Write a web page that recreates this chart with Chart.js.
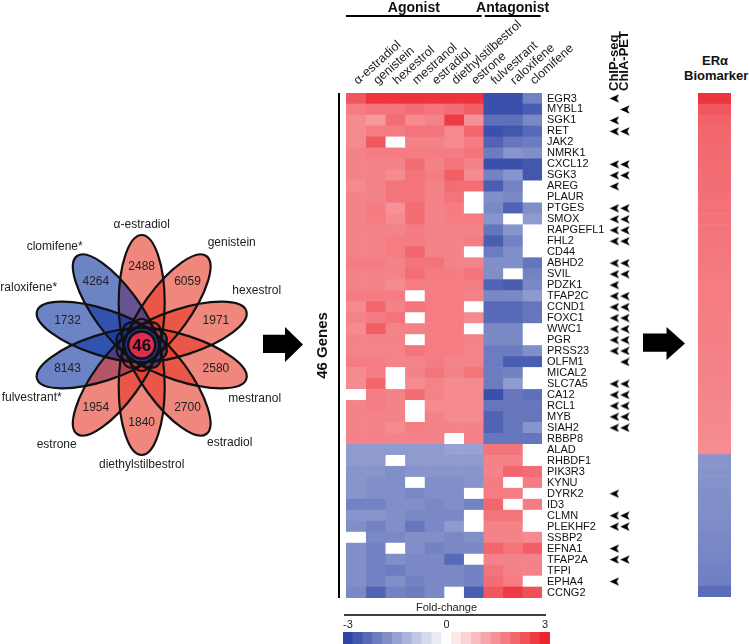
<!DOCTYPE html>
<html>
<head>
<meta charset="utf-8">
<title>ERα biomarker genes</title>
<script src="https://cdn.jsdelivr.net/npm/chart.js@4.4.1/dist/chart.umd.min.js"></script>
<style>
  html, body { margin: 0; padding: 0; background: #fff; }
  #page { position: relative; width: 749px; height: 644px; overflow: hidden;
          font-family: 'Liberation Sans', Arial, sans-serif; color: #111; }
  #page canvas { position: absolute; }
  .txt { position: absolute; white-space: nowrap; font-weight: bold; text-align: center; }
  .bigArrow { position: absolute; background: #000; }
</style>
</head>
<body>
<div id="page">
  <canvas id="venn" width="330" height="290" style="left:0;top:200px"></canvas>
  <canvas id="heat" width="360" height="644" style="left:300px;top:0"></canvas>
  <canvas id="marks" width="40" height="644" style="left:600px;top:0"></canvas>
  <canvas id="scale" width="220" height="48" style="left:338px;top:596px"></canvas>
  <canvas id="marker" width="33" height="504" style="left:698px;top:93px"></canvas>
  <div class="bigArrow" style="left:263px;top:327px;width:40px;height:35px;clip-path:polygon(0 22%,55% 22%,55% 0,100% 50%,55% 100%,55% 74%,0 74%)"></div>
  <div class="bigArrow" style="left:643px;top:327px;width:42px;height:33px;clip-path:polygon(0 20%,56% 20%,56% 0,100% 50%,56% 100%,56% 75%,0 75%)"></div>
  <div class="txt" style="left:684px;top:53px;width:62px;font-size:13px;line-height:15px">ERα<br>Biomarker</div>
</div>
<script>
const FONT = "'Liberation Sans', Arial, sans-serif";
Chart.defaults.font.family = FONT;

// ---- venn flower ----
const vennSets = ['α-estradiol', 'genistein', 'hexestrol', 'mestranol', 'estradiol',
  'diethylstilbestrol', 'estrone', 'fulvestrant*', 'raloxifene*', 'clomifene*'];
const vennCounts = [2488, 6059, 1971, 2580, 2700, 1840, 1954, 8143, 1732, 4264];
const vennAntagonist = [false, false, false, false, false, false, false, true, true, true];
const vennShared = 46;

// ---- heatmap ----
const drugs = ['α-estradiol', 'genistein', 'hexestrol', 'mestranol', 'estradiol',
  'diethylstilbestrol', 'estrone', 'fulvestrant', 'raloxifene', 'clomifene'];
const agonistCount = 7;
const genes = ['EGR3', 'MYBL1', 'SGK1', 'RET', 'JAK2', 'NMRK1', 'CXCL12', 'SGK3', 'AREG', 'PLAUR',
  'PTGES', 'SMOX', 'RAPGEFL1', 'FHL2', 'CD44', 'ABHD2', 'SVIL', 'PDZK1', 'TFAP2C', 'CCND1',
  'FOXC1', 'WWC1', 'PGR', 'PRSS23', 'OLFM1', 'MICAL2', 'SLC7A5', 'CA12', 'RCL1', 'MYB',
  'SIAH2', 'RBBP8', 'ALAD', 'RHBDF1', 'PIK3R3', 'KYNU', 'DYRK2', 'ID3', 'CLMN', 'PLEKHF2',
  'SSBP2', 'EFNA1', 'TFAP2A', 'TFPI', 'EPHA4', 'CCNG2'];

// fold-change per compound, one value per gene (null = blank cell)
const fcAlphaEstradiol = [2.3, 1.8, 1.6, 1.6, 1.6, 1.7, 1.7, 1.7, 1.6, 1.7, 1.7, 1.7, 1.7, 1.7, 1.7, 1.8,
  1.7, 1.7, 1.8, 1.6, 1.7, 1.6, 1.7, 1.7, 1.8, 1.6, 1.6, null, 1.7, 1.7, 1.7, 1.7,
  -1.6, -1.6, -1.7, -1.7, -1.7, -2.0, -1.7, -1.8, null, -1.8, -1.8, -1.8, -1.8, -1.9];
const fcGenistein = [2.8, 1.9, 1.4, 1.8, 2.3, 1.8, 1.7, 1.7, 1.7, 1.7, 1.8, 1.8, 1.7, 1.7, 1.7, 1.8,
  1.7, 1.7, 1.8, 2.1, 1.8, 2.2, 1.7, 1.7, 1.8, 1.8, 2.1, 1.8, 1.8, 1.7, 1.7, 1.7,
  -1.6, -1.6, -1.7, -1.8, -1.8, -2.0, -1.7, -2.0, -1.9, -2.0, -2.0, -2.0, -2.0, -2.5];
const fcHexestrol = [2.8, 1.9, 2.0, 1.8, null, 1.8, 1.7, 1.6, 1.9, 1.9, 1.5, 1.6, 1.7, 1.8, 1.8, 1.7,
  1.7, 1.6, 1.8, 1.7, 1.9, 1.7, 1.7, 1.7, 1.7, null, null, 1.7, 1.7, 1.7, 1.6, 1.7,
  -1.6, null, -1.8, -1.8, -1.8, -1.8, -1.8, -1.8, -1.9, null, -1.8, -2.1, -1.8, -2.0];
const fcMestranol = [2.8, 2.0, 1.6, 1.9, 1.7, 1.8, 2.0, 1.9, 1.9, 1.9, 2.0, 2.0, 1.8, 1.8, 2.1, 1.9,
  2.0, 1.8, null, 1.9, null, 1.7, null, 1.9, 1.7, 1.7, 1.6, 2.0, null, null, 1.8, 1.7,
  -1.6, -1.6, -1.7, null, -1.9, -1.8, -1.9, -2.2, -1.8, -1.8, -1.9, -1.9, -2.0, -2.1];
const fcEstradiol = [2.8, 1.9, 1.7, 1.9, 1.7, 1.8, 1.7, 1.8, 1.7, 1.7, 1.7, 1.7, 1.7, 1.7, 1.7, 1.9,
  1.8, 1.8, 1.8, 1.8, 1.8, 1.8, 1.8, 1.8, 1.8, 1.9, 1.7, 1.7, 1.6, 1.7, 1.7, 1.7,
  -1.6, -1.6, -1.7, -1.8, -1.8, -1.9, -1.9, -1.9, -1.8, -2.0, -1.9, -1.9, -1.9, -1.9];
const fcDiethylstilbestrol = [2.8, 2.0, 2.7, 1.6, 1.6, 1.8, 1.9, 2.2, 2.0, 1.9, 1.8, 1.8, 1.7, 1.7, 1.7, 1.7,
  1.8, 1.8, 1.8, 1.8, 1.8, 1.8, 1.8, 1.8, 1.7, 1.7, 1.6, 1.6, 1.6, 1.6, 1.7, null,
  -1.5, -1.6, -1.7, -1.8, -1.8, -1.8, -1.9, -1.6, -1.9, -1.9, -2.4, -1.9, -1.9, null];
const fcEstrone = [2.8, 2.2, 1.5, 2.1, 1.8, 1.9, 1.7, 1.6, 2.0, null, null, 1.8, 1.7, 1.8, null, 1.7,
  1.9, 1.8, 1.7, null, 1.6, null, 1.7, 1.7, 1.7, 1.9, 1.6, 1.6, 1.6, 1.6, 1.7, 1.7,
  -1.5, -1.6, -1.7, -1.7, null, -2.0, null, null, -1.8, -1.9, null, -2.0, -2.0, -2.6];
const fcFulvestrant = [-2.8, -2.8, -2.3, -2.8, -2.5, -2.1, -2.8, -2.0, -2.6, -1.8, -1.9, -1.7, -2.2, -2.6, -2.1, -1.8,
  -1.8, -2.5, -1.9, -2.4, -2.4, -1.9, -1.9, -2.1, -2.1, -2.1, -2.1, -2.8, -2.2, -2.5, -2.5, -2.2,
  1.9, 1.7, 1.7, 1.8, 1.8, 2.1, 1.9, 1.7, 1.7, 2.1, 1.7, 1.9, 2.0, 2.3];
const fcRaloxifene = [-2.8, -2.8, -2.3, -2.7, -2.2, -1.7, -2.8, -1.7, -2.0, -1.9, -2.5, null, -1.7, -2.0, -1.8, -1.8,
  null, -2.6, -1.9, -2.4, -2.4, -1.9, -1.9, -2.1, -2.6, -2.0, -1.6, -2.2, -2.2, -2.2, -2.2, -2.2,
  1.9, 1.7, 2.1, null, 1.8, null, 1.9, 1.7, 1.7, 1.9, 1.7, 1.7, 1.8, 2.7];
const fcClomifene = [-2.0, -2.6, -1.9, -2.4, -2.1, -1.8, -2.7, -2.7, null, null, -1.8, -1.6, null, null, null, -2.2,
  -2.0, -1.9, -1.6, -2.2, -2.2, null, null, -1.8, -2.6, null, null, -2.3, -2.2, -2.2, -1.7, -2.2,
  null, null, 2.0, 1.8, null, 1.8, null, null, 1.6, 2.2, 1.7, 1.7, null, 2.4];
const foldChange = [fcAlphaEstradiol, fcGenistein, fcHexestrol, fcMestranol, fcEstradiol,
  fcDiethylstilbestrol, fcEstrone, fcFulvestrant, fcRaloxifene, fcClomifene];

const chipSeqGenes = ['EGR3', 'SGK1', 'RET', 'CXCL12', 'SGK3', 'AREG', 'PTGES', 'SMOX', 'RAPGEFL1', 'FHL2',
  'ABHD2', 'SVIL', 'PDZK1', 'TFAP2C', 'CCND1', 'FOXC1', 'WWC1', 'PGR', 'PRSS23', 'SLC7A5', 'CA12',
  'RCL1', 'MYB', 'SIAH2', 'DYRK2', 'CLMN', 'PLEKHF2', 'EFNA1', 'TFAP2A', 'EPHA4'];
const chiaPetGenes = ['MYBL1', 'RET', 'CXCL12', 'SGK3', 'PTGES', 'SMOX', 'RAPGEFL1', 'FHL2', 'ABHD2', 'SVIL',
  'TFAP2C', 'CCND1', 'FOXC1', 'WWC1', 'PGR', 'PRSS23', 'OLFM1', 'SLC7A5', 'CA12', 'RCL1', 'MYB',
  'SIAH2', 'CLMN', 'PLEKHF2', 'TFAP2A'];
const evidenceTracks = ['ChIP-seq', 'ChIA-PET'];

// ---- colour key and biomarker column ----
const colorSteps = [-3, -2.7, -2.4, -2.1, -1.8, -1.5, -1.2, -0.9, -0.6, -0.3, 0,
  0.3, 0.6, 0.9, 1.2, 1.5, 1.8, 2.1, 2.4, 2.7, 3];
const colorTicks = [-3, 0, 3];
const biomarkerScores = [2.8, 2.3, 2.15, 2.1, 2.07, 2.04, 2.02, 2.0, 1.98, 1.96, 1.94, 1.92, 1.9, 1.88,
  1.86, 1.84, 1.82, 1.8, 1.79, 1.78, 1.76, 1.75, 1.74, 1.72, 1.71, 1.7, 1.68, 1.67, 1.65, 1.63,
  1.62, 1.6, 1.57,
  -1.7, -1.72, -1.75, -1.78, -1.8, -1.83, -1.86, -1.9, -1.93, -1.96, -2.0, -2.05, -2.35];

// layout bits (not data)
const vennLabelPos = [[0, -120], [90, -102], [115, -54], [113, 54], [88, 98], [0, 120],
  [-85, 100], [-110, 53], [-113, -57], [-87, -98]];
const petal = { offset: 42, rx: 68, ry: 23, countAt: 78 };
const vennDrawOrder = [0, 1, 2, 3, 4, 5, 7, 6, 8, 9];
const trackX = [0.6, 1.35];

const cellColor = v => {
  if (v === null || v === undefined || v === 0) return '#ffffff';
  const t = Math.min(Math.abs(v) / 3, 1);
  const c = v > 0 ? [236, 36, 46] : [45, 68, 165];
  return 'rgb(' + c.map(k => Math.round(255 + (k - 255) * t)).join(',') + ')';
};

const noChrome = { legend: { display: false }, tooltip: { enabled: false } };

// ---------- venn ----------
const vennPlugin = {
  id: 'vennFlower',
  afterDraw(chart) {
    const { ctx, scales: { x, y } } = chart;
    const unit = x.getPixelForValue(1) - x.getPixelForValue(0);
    const at = (r, ang) => [x.getPixelForValue(r * Math.cos(ang)), y.getPixelForValue(r * Math.sin(ang))];
    const angles = vennSets.map((_, i) => (-90 + 36 * i) * Math.PI / 180);
    ctx.save();
    vennDrawOrder.forEach(i => {
      const [cx, cy] = at(petal.offset, angles[i]);
      ctx.beginPath();
      ctx.ellipse(cx, cy, petal.rx * unit, petal.ry * unit, angles[i], 0, Math.PI * 2);
      ctx.fillStyle = vennAntagonist[i] ? 'rgba(10,50,160,0.6)' : 'rgba(230,55,38,0.6)';
      ctx.fill();
    });
    ctx.lineWidth = 2.2;
    ctx.strokeStyle = '#111';
    angles.forEach(ang => {
      const [cx, cy] = at(petal.offset, ang);
      ctx.beginPath();
      ctx.ellipse(cx, cy, petal.rx * unit, petal.ry * unit, ang, 0, Math.PI * 2);
      ctx.stroke();
    });
    ctx.fillStyle = '#222';
    ctx.textAlign = 'center';
    ctx.textBaseline = 'middle';
    ctx.font = '12px ' + FONT;
    vennCounts.forEach((n, i) => {
      const [tx, ty] = at(petal.countAt, angles[i]);
      ctx.fillText(String(n), tx, ty);
    });
    vennSets.forEach((name, i) => {
      ctx.fillText(name, x.getPixelForValue(vennLabelPos[i][0]), y.getPixelForValue(vennLabelPos[i][1]));
    });
    const [ox, oy] = at(0, 0);
    ctx.beginPath();
    ctx.arc(ox, oy, 13.5 * unit, 0, Math.PI * 2);
    ctx.fillStyle = 'rgb(222,45,80)';
    ctx.fill();
    ctx.lineWidth = 2.5;
    ctx.stroke();
    ctx.fillStyle = '#111';
    ctx.font = 'bold 17px ' + FONT;
    ctx.fillText(String(vennShared), ox, oy + 1);
    ctx.restore();
  }
};

new Chart(document.getElementById('venn'), {
  type: 'scatter',
  data: { datasets: [] },
  options: {
    responsive: false, animation: false, events: [],
    plugins: noChrome,
    scales: {
      x: { display: false, min: -141.7, max: 188.3 },
      y: { display: false, reverse: true, min: -145, max: 145 }
    }
  },
  plugins: [vennPlugin]
});

// ---------- heatmap ----------
const heatDecor = {
  id: 'heatDecor',
  afterDraw(chart) {
    const { ctx, chartArea: area, scales: { x } } = chart;
    ctx.save();
    ctx.strokeStyle = '#000';
    ctx.fillStyle = '#111';
    ctx.lineWidth = 2;
    ctx.textAlign = 'center';
    ctx.textBaseline = 'middle';
    ctx.font = 'bold 14px ' + FONT;
    [['Agonist', 0, agonistCount], ['Antagonist', agonistCount, drugs.length]].forEach(([name, from, to]) => {
      const x0 = x.getPixelForValue(from) + (from ? 1.5 : 0);
      const x1 = x.getPixelForValue(to) - 1.5;
      ctx.beginPath(); ctx.moveTo(x0, 16); ctx.lineTo(x1, 16); ctx.stroke();
      ctx.fillText(name, (x0 + x1) / 2, 8);
    });
    // bracket for the gene list
    ctx.beginPath();
    ctx.moveTo(area.left - 7, area.top);
    ctx.lineTo(area.left - 7, area.bottom);
    ctx.stroke();
    ctx.translate(area.left - 23, (area.top + area.bottom) / 2);
    ctx.rotate(-Math.PI / 2);
    ctx.font = 'bold 15px ' + FONT;
    ctx.fillText(genes.length + ' Genes', 0, 0);
    ctx.restore();
  }
};

const heatDatasets = foldChange.map((col, j) => ({
  indexAxis: 'y', label: drugs[j],
  data: col.map(() => [j, j + 1]),
  backgroundColor: col.map(cellColor),
  borderWidth: 0, barPercentage: 1, categoryPercentage: 1, grouped: false
}));

new Chart(document.getElementById('heat'), {
  type: 'bar',
  data: { labels: genes, datasets: heatDatasets },
  options: {
    responsive: false, animation: false, events: [],
    layout: { padding: { left: 46, right: 38, top: 0, bottom: 46 } },
    plugins: noChrome,
    scales: {
      x: {
        type: 'linear', position: 'top', min: 0, max: drugs.length, offset: false,
        grid: { display: false, drawTicks: false, offset: false }, border: { display: false },
        afterBuildTicks: s => { s.ticks = drugs.map((d, i) => ({ value: i + 0.5 })); },
        afterFit: s => { s.height = 93; s.paddingLeft = 0; s.paddingRight = 0; },
        ticks: {
          autoSkip: false, minRotation: 42, maxRotation: 42, padding: 5, labelOffset: 10,
          color: '#222', font: { size: 12.5 }, callback: (v, i) => drugs[i]
        }
      },
      y: {
        type: 'category', position: 'right', offset: true,
        grid: { display: false, drawTicks: false }, border: { display: false },
        afterFit: s => { s.width = 80; s.paddingTop = 0; s.paddingBottom = 0; },
        ticks: { autoSkip: false, padding: 5, color: '#111', font: { size: 11 } }
      }
    }
  },
  plugins: [heatDecor]
});

// ---------- ChIP-seq / ChIA-PET evidence marks ----------
const chevron = (() => {
  const c = document.createElement('canvas');
  c.width = 10; c.height = 9;
  const g = c.getContext('2d');
  g.fillStyle = '#000';
  g.beginPath();
  g.moveTo(0.3, 4.5); g.lineTo(9.7, 0.2); g.lineTo(7.4, 4.5); g.lineTo(9.7, 8.8);
  g.closePath(); g.fill();
  return c;
})();

const trackHeaders = {
  id: 'trackHeaders',
  afterDraw(chart) {
    const { ctx, chartArea: area, scales: { x } } = chart;
    ctx.save();
    ctx.fillStyle = '#111';
    ctx.font = 'bold 13px ' + FONT;
    ctx.textAlign = 'left';
    ctx.textBaseline = 'middle';
    evidenceTracks.forEach((t, k) => {
      ctx.save();
      ctx.translate(x.getPixelForValue(trackX[k]), area.top - 2);
      ctx.rotate(-Math.PI / 2);
      ctx.fillText(t, 0, 0);
      ctx.restore();
    });
    ctx.restore();
  }
};

new Chart(document.getElementById('marks'), {
  type: 'scatter',
  data: {
    labels: genes,
    datasets: [chipSeqGenes, chiaPetGenes].map((list, k) => ({
      label: evidenceTracks[k],
      data: list.map(g => ({ x: trackX[k], y: g })),
      pointStyle: chevron, pointRadius: 5
    }))
  },
  options: {
    responsive: false, animation: false, events: [],
    layout: { padding: { left: 0, right: 0, top: 93, bottom: 46 } },
    plugins: noChrome,
    scales: {
      x: { type: 'linear', display: false, min: 0, max: 2 },
      y: { type: 'category', labels: genes, display: false, offset: true }
    }
  },
  plugins: [trackHeaders]
});

// ---------- colour key ----------
const keyLine = {
  id: 'keyLine',
  afterDraw(chart) {
    const { ctx, chartArea: area } = chart;
    ctx.save();
    ctx.strokeStyle = '#000';
    ctx.lineWidth = 1.5;
    ctx.beginPath();
    ctx.moveTo(area.left + 1, area.top - 17);
    ctx.lineTo(area.right - 4, area.top - 17);
    ctx.stroke();
    ctx.restore();
  }
};

new Chart(document.getElementById('scale'), {
  type: 'bar',
  data: {
    labels: colorSteps,
    datasets: [{
      data: colorSteps.map(() => 1), backgroundColor: colorSteps.map(cellColor),
      borderWidth: 0, barPercentage: 1, categoryPercentage: 1
    }]
  },
  options: {
    responsive: false, animation: false, events: [],
    layout: { padding: { left: 5, right: 8, top: 0, bottom: 0 } },
    plugins: noChrome,
    scales: {
      x: {
        position: 'top',
        grid: { display: false, drawTicks: false }, border: { display: false },
        afterFit: s => { s.height = 36; s.paddingLeft = 0; s.paddingRight = 0; },
        ticks: {
          autoSkip: false, maxRotation: 0, padding: 0, color: '#222', font: { size: 11 },
          callback: (v, i) => colorTicks.includes(colorSteps[i]) ? String(colorSteps[i]) : ''
        },
        title: { display: true, text: 'Fold-change', color: '#222', font: { size: 11 }, padding: { top: 5, bottom: 0 } }
      },
      y: { display: false, min: 0, max: 1 }
    }
  },
  plugins: [keyLine]
});

// ---------- ERα biomarker column ----------
new Chart(document.getElementById('marker'), {
  type: 'bar',
  data: {
    labels: biomarkerScores.map((_, i) => i + 1),
    datasets: [{
      data: biomarkerScores.map(() => 1), backgroundColor: biomarkerScores.map(cellColor),
      borderWidth: 0, barPercentage: 1, categoryPercentage: 1
    }]
  },
  options: {
    indexAxis: 'y', responsive: false, animation: false, events: [],
    plugins: noChrome,
    scales: { x: { display: false, min: 0, max: 1 }, y: { display: false } }
  }
});
</script>
</body>
</html>
